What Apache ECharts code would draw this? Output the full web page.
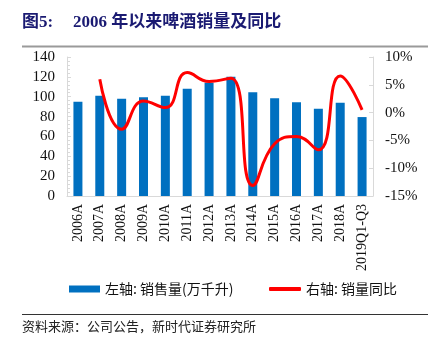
<!DOCTYPE html>
<html>
<head>
<meta charset="utf-8">
<script src="https://cdn.jsdelivr.net/npm/echarts@6/dist/echarts.min.js"></script>
<style>
  html, body { margin: 0; padding: 0; background: #fff; }
  #chart { width: 432px; height: 338px; }
</style>
</head>
<body>
<div id="chart"></div>
<script>
// Beer sales volume since 2006 and its year-on-year change
const categories = ['2006A', '2007A', '2008A', '2009A', '2010A', '2011A', '2012A',
  '2013A', '2014A', '2015A', '2016A', '2017A', '2018A', '2019Q1-Q3'];
const salesVolume = [95, 101, 98, 99.5, 101, 108, 114, 120, 104.5, 98.5, 94.5, 88, 94, 79.5];
const salesYoY = [null, 6.0, -3.0, 2.1, 0.9, 7.2, 5.6, 6.2, -13.1, -5.6, -4.3, -6.7, 6.6, 0.5];
const leftTicks = { min: 0, max: 140, interval: 20 };
const rightTicks = { min: -15, max: 10, interval: 5 };

const barName = '左轴: 销售量(万千升)';
const lineName = '右轴: 销量同比';
const serif = '"Liberation Serif", "Times New Roman", "Noto Sans CJK SC", serif';
const cjk = '"Noto Sans CJK SC", "Liberation Serif", sans-serif';
const axisGray = '#d9d9d9';

const chart = echarts.init(document.getElementById('chart'), null, { renderer: 'canvas' });

chart.setOption({
  animation: false,
  backgroundColor: '#ffffff',
  grid: { left: 67, right: 59, top: 57, bottom: 142, containLabel: false },
  legend: [
    {
      left: 64, top: 277, itemWidth: 31, itemHeight: 7, itemGap: 10,
      data: [{ name: barName, icon: 'rect' }],
      textStyle: { fontFamily: cjk, fontSize: 14, color: '#111' }
    },
    {
      left: 264, top: 277, itemWidth: 32, itemHeight: 4, itemGap: 10,
      data: [{ name: lineName, icon: 'roundRect' }],
      textStyle: { fontFamily: cjk, fontSize: 14, color: '#111' }
    }
  ],
  xAxis: {
    type: 'category',
    data: categories,
    axisLine: { show: true, lineStyle: { color: axisGray, width: 1 } },
    axisTick: { show: false },
    axisLabel: {
      rotate: 90, margin: 8, interval: 0,
      fontFamily: serif, fontSize: 14, color: '#111'
    }
  },
  yAxis: [
    {
      type: 'value',
      min: leftTicks.min, max: leftTicks.max, interval: leftTicks.interval,
      axisLine: { show: true, lineStyle: { color: axisGray } },
      axisTick: { show: true, inside: true, length: 4, lineStyle: { color: axisGray } },
      minorTick: { show: true, splitNumber: 5, length: 3, lineStyle: { color: axisGray } },
      splitLine: { show: false },
      axisLabel: { margin: 12, fontFamily: serif, fontSize: 15, color: '#111' }
    },
    {
      type: 'value',
      min: rightTicks.min, max: rightTicks.max, interval: rightTicks.interval,
      axisLine: { show: true, lineStyle: { color: axisGray } },
      axisTick: { show: true, inside: true, length: 4, lineStyle: { color: axisGray } },
      splitLine: { show: false },
      axisLabel: { margin: 12, fontFamily: serif, fontSize: 15, color: '#111', formatter: '{value}%' }
    }
  ],
  series: [
    {
      name: barName,
      type: 'bar',
      yAxisIndex: 0,
      data: salesVolume,
      barWidth: 9,
      itemStyle: { color: '#0070c0' }
    },
    {
      name: lineName,
      type: 'line',
      yAxisIndex: 1,
      data: salesYoY,
      smooth: 0.5,
      symbol: 'none',
      connectNulls: false,
      lineStyle: { color: '#ff0000', width: 3 },
      itemStyle: { color: '#ff0000' }
    }
  ],
  graphic: [
    {
      type: 'text', left: 22, top: 14,
      style: { text: '图5:', fontFamily: serif, fontWeight: 'bold', fontSize: 17, fill: '#1a1a72' }
    },
    {
      type: 'text', left: 73, top: 14,
      style: { text: '2006 年以来啤酒销量及同比', fontFamily: serif, fontWeight: 'bold', fontSize: 17, fill: '#1a1a72' }
    },
    {
      type: 'line',
      shape: { x1: 22, y1: 46.5, x2: 428, y2: 46.5 },
      style: { stroke: '#9a9a9a', lineWidth: 2 }
    },
    {
      type: 'line',
      shape: { x1: 22, y1: 314.5, x2: 428, y2: 314.5 },
      style: { stroke: '#333', lineWidth: 1 }
    },
    {
      type: 'text', left: 22, top: 320,
      style: { text: '资料来源：公司公告，新时代证券研究所', fontFamily: cjk, fontSize: 13, fill: '#222' }
    }
  ]
});
</script>
</body>
</html>
